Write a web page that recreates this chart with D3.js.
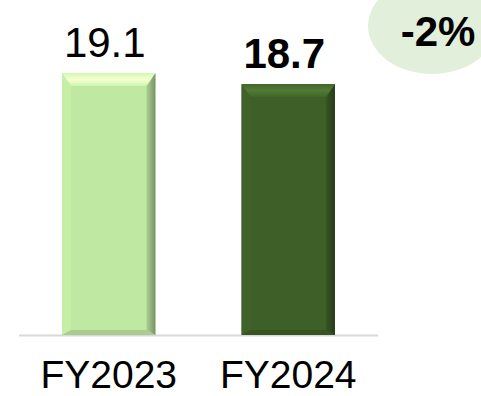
<!DOCTYPE html>
<html>
<head>
<meta charset="utf-8">
<script src="https://cdn.jsdelivr.net/npm/d3@7"></script>
<style>
html,body{margin:0;padding:0;background:#fff;}
svg{display:block;font-family:Arial,"Liberation Sans",sans-serif;}
</style>
</head>
<body>
<svg id="chart" width="481" height="396"></svg>
<script>
const categories = ["FY2023", "FY2024"];
const values = [19.1, 18.7];
const valueLabels = ["19.1", "18.7"];
const labelBold = [false, true];
const barColors = ["#bfe8a2", "#3e5f28"];
const changeLabel = "-2%";

const svg = d3.select("#chart");
const defs = svg.append("defs");

const x = d3.scaleBand().domain(categories).range([19, 378]).paddingInner(0.48).paddingOuter(0.24);
const y = d3.scaleLinear().domain([9.6, 19.1]).range([335, 73]);

svg.append("line").attr("x1", 19).attr("x2", 378).attr("y1", 335.5).attr("y2", 335.5)
  .attr("stroke", "#d9d9d9").attr("stroke-width", 2);

const bt = 13, bs = 9, bb = 5;
categories.forEach((c, i) => {
  const x0 = x(c), x1 = x0 + x.bandwidth();
  const y0 = y(values[i]), y1 = y(y.domain()[0]);
  const base = d3.color(barColors[i]);
  const g = svg.append("g");

  const gt = defs.append("linearGradient").attr("id", "gt" + i).attr("x1", 0).attr("y1", 0).attr("x2", 0).attr("y2", 1);
  gt.append("stop").attr("offset", 0).attr("stop-color", base.brighter(0.2));
  gt.append("stop").attr("offset", 0.5).attr("stop-color", base.brighter(0.75));
  gt.append("stop").attr("offset", 1).attr("stop-color", base.brighter(0.15));
  const gr = defs.append("linearGradient").attr("id", "gr" + i).attr("x1", 0).attr("y1", 0).attr("x2", 1).attr("y2", 0);
  gr.append("stop").attr("offset", 0).attr("stop-color", base.darker(0.3));
  gr.append("stop").attr("offset", 1).attr("stop-color", base.darker(1.3));

  g.append("rect").attr("x", x0).attr("y", y0).attr("width", x1 - x0).attr("height", y1 - y0).attr("fill", base);
  g.append("polygon").attr("points", [[x0,y0],[x0+bs,y0+bt],[x0+bs,y1-bb],[x0,y1]].join(" "))
    .attr("fill", base.brighter(0.08));
  g.append("polygon").attr("points", [[x1,y0],[x1,y1],[x1-bs,y1-bb],[x1-bs,y0+bt]].join(" "))
    .attr("fill", `url(#gr${i})`);
  g.append("polygon").attr("points", [[x0,y1],[x1,y1],[x1-bs,y1-bb],[x0+bs,y1-bb]].join(" "))
    .attr("fill", base.darker(0.35));
  g.append("polygon").attr("points", [[x0,y0],[x1,y0],[x1-bs,y0+bt],[x0+bs,y0+bt]].join(" "))
    .attr("fill", `url(#gt${i})`);

  svg.append("text").attr("x", x0 + x.bandwidth()/2 - 4).attr("y", y0 - 16)
    .attr("text-anchor", "middle").attr("font-size", 42)
    .attr("font-weight", labelBold[i] ? "bold" : "normal").attr("fill", "#000")
    .text(valueLabels[i]);

  svg.append("text").attr("x", x0 + x.bandwidth()/2).attr("y", 388)
    .attr("text-anchor", "middle").attr("font-size", 39).attr("fill", "#000")
    .text(c);
});

svg.append("ellipse").attr("cx", 432).attr("cy", 26).attr("rx", 64).attr("ry", 48).attr("fill", "#e2efda");
svg.append("text").attr("x", 438).attr("y", 46).attr("text-anchor", "middle")
  .attr("font-size", 42).attr("font-weight", "bold").attr("fill", "#000").text(changeLabel);
</script>
</body>
</html>
